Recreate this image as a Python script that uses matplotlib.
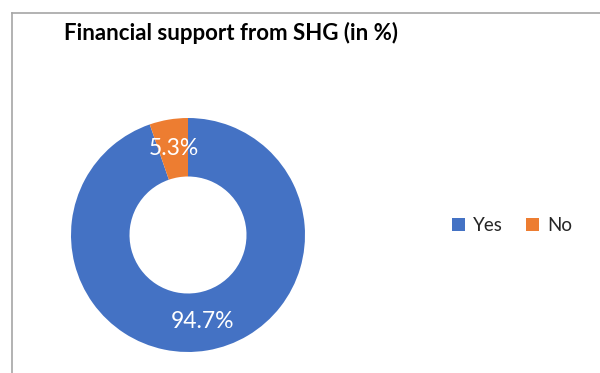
import matplotlib.pyplot as plt
from matplotlib.lines import Line2D

labels = ["Yes", "No"]
values = [94.7, 5.3]
colors = ["#4472C4", "#ED7D31"]
title = "Financial support from SHG (in %)"

W, H = 600, 373
fig = plt.figure(figsize=(W / 100, H / 100), dpi=100)
fig.patch.set_facecolor("white")

# chart frame (only top and left edges visible in the crop)
fig.add_artist(Line2D([11.5 / W, 11.5 / W], [0, 1 - 12.5 / H], color="#A6A6A6", lw=1.2))
fig.add_artist(Line2D([11.5 / W, 1], [1 - 12.5 / H, 1 - 12.5 / H], color="#A6A6A6", lw=1.2))

cx, cy, r = 188, 235, 117
ax = fig.add_axes([(cx - r) / W, (H - cy - r) / H, 2 * r / W, 2 * r / H])
wedges, _, autotexts = ax.pie(
    values, colors=colors, startangle=90, counterclock=False,
    autopct="%1.1f%%", pctdistance=0.75,
    wedgeprops=dict(width=0.5, linewidth=0),
    textprops=dict(color="white", fontsize=16.5, family="Lato"))
ax.set_xlim(-1, 1)
ax.set_ylim(-1, 1)
ax.set_aspect("equal")
ax.axis("off")

fig.text(64 / W, 1 - 33 / H, title, fontsize=16, fontweight="bold",
         family="Lato", va="center", ha="left", color="black")

leg = fig.legend(wedges, labels, loc="center", bbox_to_anchor=(512 / W, 1 - 226 / H),
                 ncol=2, frameon=False, handlelength=0.7, handleheight=0.7,
                 handletextpad=0.4, columnspacing=1.25,
                 prop=dict(family="Lato", size=13.5))
for t in leg.get_texts():
    t.set_color("#262626")

fig.savefig("out.png", dpi=100)
